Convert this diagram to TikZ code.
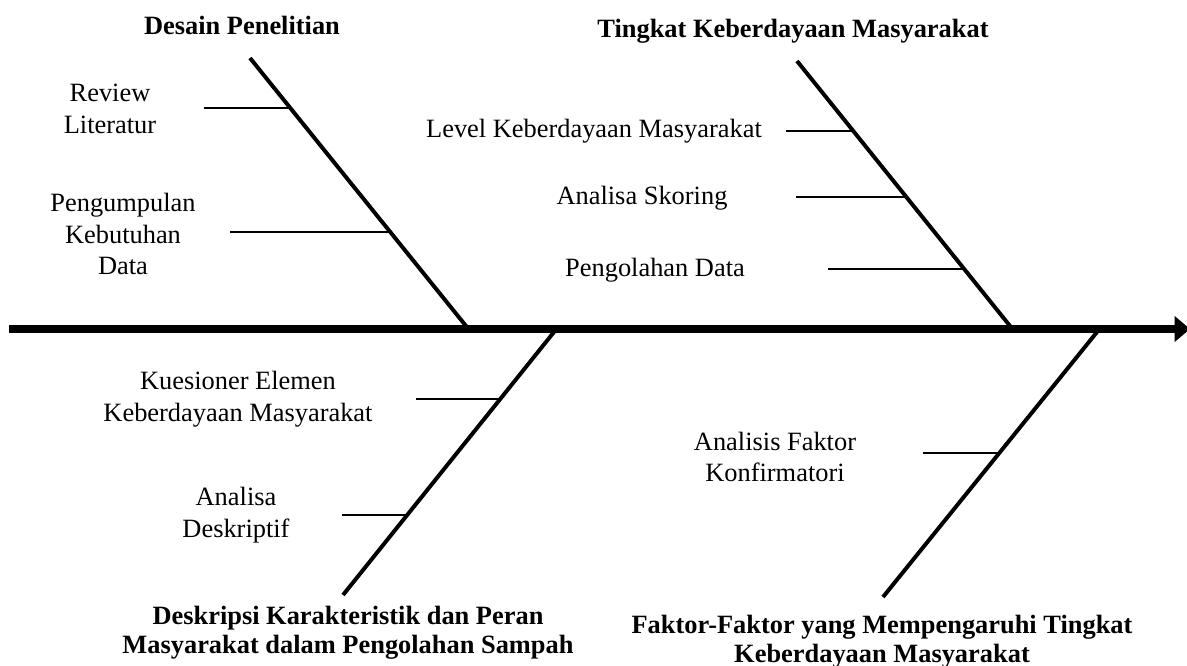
\documentclass[tikz,border=0pt]{standalone}
\usepackage{fontspec}
\setmainfont{Liberation Serif}
\usetikzlibrary{arrows.meta}
\begin{document}
\begin{tikzpicture}[x=0.4545pt,y=-0.4545pt,
  spine/.style={line width=3.6pt,-{Triangle[length=7pt,width=11.4pt]}},
  bone/.style={line width=1.8pt},
  rib/.style={line width=0.9pt},
  lbl/.style={font=\fontsize{12}{14.5}\selectfont,align=center,inner sep=0pt},
  ttl/.style={font=\fontsize{12}{13}\selectfont\bfseries,align=center,inner sep=0pt}]
\useasboundingbox (0,0) rectangle (1187,665);
% spine
\coordinate (tail) at (9,329);
\coordinate (head) at (1190,329);
\draw[spine] (tail) -- (head);
% bones
\coordinate (b1t) at (250,58);   \coordinate (b1b) at (466,326);
\coordinate (b2t) at (797,61);   \coordinate (b2b) at (1010,326);
\coordinate (b3t) at (554,332);  \coordinate (b3b) at (343,595);
\coordinate (b4t) at (1097,332); \coordinate (b4b) at (883,597);
\draw[bone] (b1t) -- (b1b);
\draw[bone] (b2t) -- (b2b);
\draw[bone] (b3t) -- (b3b);
\draw[bone] (b4t) -- (b4b);
% ribs
\coordinate (r1a) at (204,108); \coordinate (r1b) at (290,108);
\coordinate (r2a) at (230,232); \coordinate (r2b) at (390,232);
\coordinate (r3a) at (786,131); \coordinate (r3b) at (853,131);
\coordinate (r4a) at (796,197); \coordinate (r4b) at (906,197);
\coordinate (r5a) at (828,269); \coordinate (r5b) at (964,269);
\coordinate (r6a) at (416,399); \coordinate (r6b) at (500,399);
\coordinate (r7a) at (342,515); \coordinate (r7b) at (407,515);
\coordinate (r8a) at (923,453); \coordinate (r8b) at (999,453);
\foreach \i in {1,...,8} {\draw[rib] (r\i a) -- (r\i b);}
% titles
\node[ttl,anchor=base] (t1) at (242,35) {Desain Penelitian};
\node[ttl,anchor=base] (t2) at (793,38) {Tingkat Keberdayaan Masyarakat};
\node[ttl,anchor=north] (t3) at (348,606) {Deskripsi Karakteristik dan Peran\\Masyarakat dalam Pengolahan Sampah};
\node[ttl,anchor=north] (t4) at (882,615) {Faktor-Faktor yang Mempengaruhi Tingkat\\Keberdayaan Masyarakat};
% items
\node[lbl] (i1) at (110,109) {Review\\Literatur};
\node[lbl] (i2) at (123,234) {Pengumpulan\\Kebutuhan\\Data};
\node[lbl] (i3) at (594,131) {Level Keberdayaan Masyarakat};
\node[lbl] (i4) at (642,198) {Analisa Skoring};
\node[lbl] (i5) at (655,270) {Pengolahan Data};
\node[lbl] (i6) at (238,399) {Kuesioner Elemen\\Keberdayaan Masyarakat};
\node[lbl] (i7) at (236,515) {Analisa\\Deskriptif};
\node[lbl] (i8) at (775,457) {Analisis Faktor\\Konfirmatori};
\end{tikzpicture}
\end{document}
